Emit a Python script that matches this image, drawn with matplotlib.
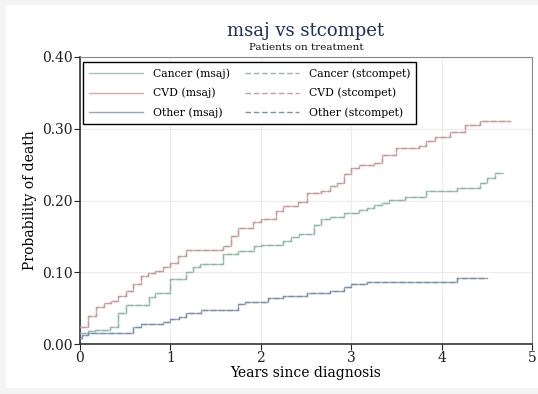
import matplotlib
matplotlib.use("Agg")
import matplotlib.pyplot as plt
from matplotlib.patches import Rectangle

# ---- data (step functions: time, cumulative probability) ----
cancer_t = [0, 0.09, 0.17, 0.33, 0.42, 0.505, 0.76, 0.83, 1.0, 1.09, 1.17, 1.25, 1.33,
            1.585, 1.75, 1.92, 2.0, 2.25, 2.33, 2.42, 2.59, 2.67, 2.76, 2.92, 3.09, 3.17,
            3.25, 3.34, 3.42, 3.595, 3.83, 4.17, 4.42, 4.5, 4.59, 4.68]
cancer_p = [0.015, 0.018, 0.020, 0.024, 0.043, 0.055, 0.066, 0.071, 0.090, 0.091, 0.101, 0.108, 0.111,
            0.126, 0.130, 0.136, 0.138, 0.143, 0.149, 0.154, 0.1655, 0.1737, 0.1766, 0.182, 0.1868, 0.190,
            0.1937, 0.197, 0.2007, 0.2045, 0.2137, 0.218, 0.224, 0.232, 0.2387, 0.2387]

cvd_t = [0, 0.09, 0.177, 0.26, 0.34, 0.42, 0.505, 0.59, 0.675, 0.756, 0.83, 0.915, 0.996,
         1.088, 1.17, 1.585, 1.667, 1.75, 1.917, 2.0, 2.17, 2.25, 2.415, 2.51, 2.67, 2.76,
         2.84, 2.92, 3.0, 3.09, 3.25, 3.34, 3.50, 3.75, 3.83, 3.93, 4.09, 4.26, 4.42, 4.76]
cvd_p = [0.024, 0.039, 0.051, 0.057, 0.060, 0.067, 0.074, 0.083, 0.095, 0.0985, 0.102, 0.108, 0.113,
         0.122, 0.131, 0.137, 0.150, 0.161, 0.170, 0.174, 0.186, 0.192, 0.1975, 0.210, 0.2137, 0.220,
         0.225, 0.237, 0.245, 0.2495, 0.2527, 0.264, 0.2727, 0.276, 0.283, 0.289, 0.296, 0.305, 0.311, 0.311]

other_t = [0, 0.02, 0.09, 0.59, 0.675, 0.92, 1.0, 1.09, 1.17, 1.34, 1.75, 1.83, 2.08, 2.25,
           2.51, 2.76, 2.92, 3.0, 3.18, 4.17, 4.5]
other_p = [0.009, 0.013, 0.015, 0.023, 0.028, 0.031, 0.035, 0.038, 0.0437, 0.047, 0.0557, 0.059,
           0.0637, 0.067, 0.0706, 0.074, 0.079, 0.083, 0.087, 0.0915, 0.0915]

causes = ["Cancer", "CVD", "Other"]
colors = ["#8fb8a6", "#c79a9a", "#7d90ae"]
series = [(cancer_t, cancer_p), (cvd_t, cvd_p), (other_t, other_p)]

title = "msaj vs stcompet"
subtitle = "Patients on treatment"
xlabel = "Years since diagnosis"
ylabel = "Probability of death"
xticks = [0, 1, 2, 3, 4, 5]
yticks = [0.0, 0.1, 0.2, 0.3, 0.4]

plt.rcParams['font.family'] = ['DejaVu Serif']

fig = plt.figure(figsize=(5.38, 3.94), dpi=100, facecolor="#f4f4f4")
fig.patches.append(Rectangle((6/538, 6/394), 1 - 6/538, 1 - 11/394, transform=fig.transFigure,
                             facecolor="white", edgecolor="none", zorder=-10))
ax = fig.add_axes([80/538, 50/394, 452/538, 287/394])
ax.set_facecolor("white")
ax.set_zorder(1)

h_solid, h_dash = [], []
for name, col, (t, p) in zip(causes, colors, series):
    l1, = ax.step(t, p, where="post", color=col, lw=1.0, alpha=0.8, label=f"{name} (msaj)", zorder=3)
    l2, = ax.step(t, p, where="post", color=col, lw=1.0, ls=(0, (4, 2)), label=f"{name} (stcompet)", zorder=4)
    h_solid.append(l1)
    h_dash.append(l2)

ax.set_xlim(0, 5)
ax.set_ylim(0, 0.4)
ax.set_xticks(xticks)
ax.set_xticklabels([str(x) for x in xticks])
ax.set_yticks(yticks)
ax.set_yticklabels([f"{y:.2f}" for y in yticks])
ax.grid(True, color="#ececec", lw=0.8, zorder=0)
ax.tick_params(direction="out", length=4, width=0.8, labelsize=10, pad=1, colors="#222222")

for s in ["left", "bottom"]:
    ax.spines[s].set_color("#333333")
    ax.spines[s].set_linewidth(1.2)
for s in ["top", "right"]:
    ax.spines[s].set_color("#888888")
    ax.spines[s].set_linewidth(0.8)

ax.set_xlabel(xlabel, fontsize=10, labelpad=1)
ax.set_ylabel(ylabel, fontsize=10, labelpad=4)

fig.text(306/538, 363/394, title, ha="center", va="center", fontsize=13, color="#1f2d5c")
fig.text(306/538, 347/394, subtitle, ha="center", va="center", fontsize=7.5, color="#111111")

leg = ax.legend(handles=h_solid + h_dash, ncol=2, loc="upper left", bbox_to_anchor=(0.006, 0.982),
                fontsize=7.8, frameon=True, fancybox=False, edgecolor="black", framealpha=1,
                handlelength=5, columnspacing=1.4, borderpad=0.55, labelspacing=0.85, handletextpad=0.9,
                borderaxespad=0)
leg.get_frame().set_linewidth(1.0)

fig.savefig("out.png", dpi=100, facecolor=fig.get_facecolor())
